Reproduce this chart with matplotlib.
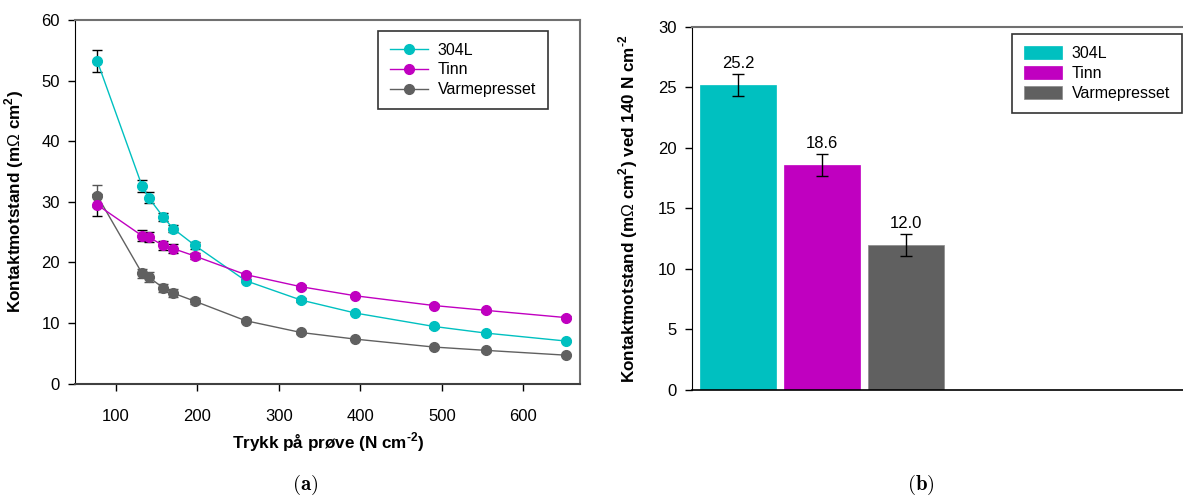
import numpy as np
import matplotlib.pyplot as plt

plt.rcParams['font.family'] = ['Liberation Sans', 'DejaVu Sans']
plt.rcParams['mathtext.fontset'] = 'custom'
plt.rcParams['mathtext.rm'] = 'Liberation Sans'
plt.rcParams['mathtext.bf'] = 'Liberation Sans:bold'

# pressure on sample (N cm^-2)
pressure = [77, 132, 140, 158, 170, 197, 259, 327, 394, 490, 554, 653]

# contact resistance (mOhm cm^2)
r_304L = [53.2, 32.6, 30.7, 27.5, 25.6, 22.8, 17.0, 13.8, 11.65, 9.45, 8.35, 7.03]
r_tinn = [29.5, 24.4, 24.2, 22.8, 22.3, 21.05, 18.0, 16.0, 14.5, 12.9, 12.1, 10.9]
r_varm = [31.0, 18.2, 17.6, 15.8, 14.95, 13.6, 10.4, 8.45, 7.35, 6.05, 5.5, 4.7]

e_304L = [1.8, 1.0, 0.9, 0.7, 0.6, 0.6, 0.3, 0.3, 0.2, 0.2, 0.2, 0.2]
e_tinn = [1.8, 0.9, 0.8, 0.7, 0.7, 0.5, 0.3, 0.3, 0.2, 0.2, 0.2, 0.2]
e_varm = [1.8, 0.8, 0.8, 0.7, 0.6, 0.5, 0.3, 0.3, 0.2, 0.2, 0.2, 0.2]

# values at 140 N cm^-2
materials = ['304L', 'Tinn', 'Varmepresset']
r_140 = [25.2, 18.6, 12.0]
e_140 = [0.9, 0.9, 0.9]

cyan = '#00c0c0'
magenta = '#c000c0'
grey = '#606060'
colors = [cyan, magenta, grey]

HY = '\u2010'  # plain hyphen for the superscript, not a math minus

W, H = 1183, 497
fig = plt.figure(figsize=(W/100, H/100), dpi=100)

#===================
# (a) resistance vs pressure
#===================
ax = fig.add_axes([75.3/W, (H-383.7)/H, 505/W, 363.7/H])

series = [(r_varm, e_varm, grey, 'Varmepresset', '#555555'),
          (r_304L, e_304L, cyan, '304L', 'k'),
          (r_tinn, e_tinn, magenta, 'Tinn', 'k')]
handles = {}
for r, e, c, name, ec in series:
    ax.errorbar(pressure, r, yerr=e, fmt='none', ecolor=ec, elinewidth=1,
                capsize=3.6, capthick=1, zorder=2)
    h, = ax.plot(pressure, r, '-o', color=c, lw=1, ms=7, mec=c, zorder=3,
                 label=name)
    handles[name] = h

ax.set_xlim(50, 670)
ax.set_ylim(0, 60)
ax.set_xticks([100, 200, 300, 400, 500, 600])
ax.set_yticks(range(0, 61, 10))
ax.tick_params(direction='out', length=5, width=1, labelsize=12, pad=6)
ax.tick_params(axis='x', pad=13)
for s in ['top', 'right']:
    ax.spines[s].set_color('#707070')
    ax.spines[s].set_linewidth(1.5)
ax.spines['left'].set_color('k')
ax.spines['bottom'].set_color('#404040')
ax.spines['bottom'].set_linewidth(1.5)

ax.set_ylabel(r'Kontaktmotstand (m$\Omega$ cm$^\mathbf{2}$)', fontsize=12.3,
              fontweight='bold')
ax.yaxis.set_label_coords(-0.0976, 0.5)
ax.set_xlabel(r'Trykk på prøve (N cm$^\mathbf{' + HY + '2}$)', fontsize=12.3,
              fontweight='bold')
ax.xaxis.set_label_coords(0.5, -0.128)

leg = ax.legend([handles[m] for m in materials], materials, loc='upper left',
                bbox_to_anchor=(0.599, 0.9706), borderaxespad=0, fontsize=11.5,
                fancybox=False, edgecolor='#333333', framealpha=1,
                handlelength=2.4, handletextpad=0.6, labelspacing=0.3,
                borderpad=0.75)
leg.get_frame().set_linewidth(1.2)

#===================
# (b) bars at 140 N cm^-2
#===================
bx = fig.add_axes([691.7/W, (H-390)/H, (1195-691.7)/W, 363.3/H])
xpos = np.arange(len(materials))
bars = bx.bar(xpos, r_140, width=0.9, color=colors, edgecolor=colors,
              linewidth=0.5, label=materials, zorder=2)
bars[2].set_edgecolor('#8a8a8a')
bx.errorbar(xpos, r_140, yerr=e_140, fmt='none', ecolor='k', elinewidth=1,
            capsize=4.3, capthick=1, zorder=3)
for x, v, e in zip(xpos, r_140, e_140):
    bx.text(x, v + e + 0.25, '%.1f' % v, ha='center', va='bottom', fontsize=12)

bx.set_xlim(-0.553, 5.44)
bx.set_ylim(0, 30)
bx.set_xticks([])
bx.set_yticks(range(0, 31, 5))
bx.tick_params(direction='out', length=5, width=1, labelsize=12, pad=6)
bx.spines['top'].set_color('#707070')
bx.spines['top'].set_linewidth(1.5)
bx.spines['right'].set_visible(False)
bx.spines['bottom'].set_linewidth(1.2)

bx.set_ylabel(r'Kontaktmotstand (m$\Omega$ cm$^\mathbf{2}$) ved 140 N cm$^\mathbf{'
              + HY + '2}$', fontsize=12.3, fontweight='bold')
bx.yaxis.set_label_coords(-0.1027, 0.5)

leg2 = bx.legend(bars, materials, loc='upper left', bbox_to_anchor=(0.6356, 0.979),
                 borderaxespad=0, fontsize=11.5, fancybox=False,
                 edgecolor='#333333', framealpha=1, handlelength=2.4,
                 handleheight=0.85, handletextpad=0.6, labelspacing=0.3,
                 borderpad=0.75)
leg2.get_frame().set_linewidth(1.2)

# sub-figure captions
fig.text(305/W, (H-485)/H, r'$\mathbf{(a)}$', ha='center', va='center',
         fontsize=15, math_fontfamily='cm')
fig.text(921/W, (H-485)/H, r'$\mathbf{(b)}$', ha='center', va='center',
         fontsize=15, math_fontfamily='cm')

fig.savefig('out.png', dpi=100)
